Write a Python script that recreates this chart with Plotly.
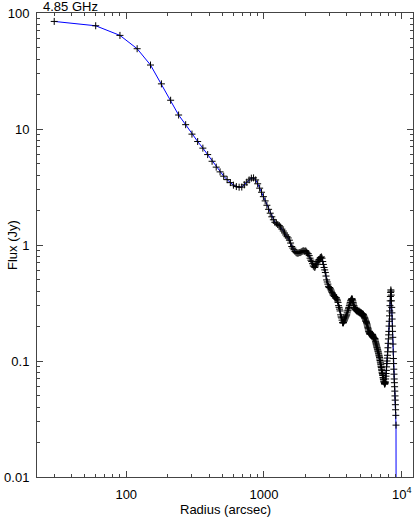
import plotly.graph_objects as go

# radial profile, 30 arcsec steps
radius = [
    30, 60, 90, 120, 150, 180, 210, 240, 270, 300,
    330, 360, 390, 420, 450, 480, 510, 540, 570, 600,
    630, 660, 690, 720, 750, 780, 810, 840, 870, 900,
    930, 960, 990, 1020, 1050, 1080, 1110, 1140, 1170, 1200,
    1230, 1260, 1290, 1320, 1350, 1380, 1410, 1440, 1470, 1500,
    1530, 1560, 1590, 1620, 1650, 1680, 1710, 1740, 1770, 1800,
    1830, 1860, 1890, 1920, 1950, 1980, 2010, 2040, 2070, 2100,
    2130, 2160, 2190, 2220, 2250, 2280, 2310, 2340, 2370, 2400,
    2430, 2460, 2490, 2520, 2550, 2580, 2610, 2640, 2670, 2700,
    2730, 2760, 2790, 2820, 2850, 2880, 2910, 2940, 2970, 3000,
    3030, 3060, 3090, 3120, 3150, 3180, 3210, 3240, 3270, 3300,
    3330, 3360, 3390, 3420, 3450, 3480, 3510, 3540, 3570, 3600,
    3630, 3660, 3690, 3720, 3750, 3780, 3810, 3840, 3870, 3900,
    3930, 3960, 3990, 4020, 4050, 4080, 4110, 4140, 4170, 4200,
    4230, 4260, 4290, 4320, 4350, 4380, 4410, 4440, 4470, 4500,
    4530, 4560, 4590, 4620, 4650, 4680, 4710, 4740, 4770, 4800,
    4830, 4860, 4890, 4920, 4950, 4980, 5010, 5040, 5070, 5100,
    5130, 5160, 5190, 5220, 5250, 5280, 5310, 5340, 5370, 5400,
    5430, 5460, 5490, 5520, 5550, 5580, 5610, 5640, 5670, 5700,
    5730, 5760, 5790, 5820, 5850, 5880, 5910, 5940, 5970, 6000,
    6030, 6060, 6090, 6120, 6150, 6180, 6210, 6240, 6270, 6300,
    6330, 6360, 6390, 6420, 6450, 6480, 6510, 6540, 6570, 6600,
    6630, 6660, 6690, 6720, 6750, 6780, 6810, 6840, 6870, 6900,
    6930, 6960, 6990, 7020, 7050, 7080, 7110, 7140, 7170, 7200,
    7230, 7260, 7290, 7320, 7350, 7380, 7410, 7440, 7470, 7500,
    7530, 7560, 7590, 7620, 7650, 7680, 7710, 7740, 7770, 7800,
    7830, 7860, 7890, 7920, 7950, 7980, 8010, 8040, 8070, 8100,
    8130, 8160, 8190, 8220, 8250, 8280, 8310, 8340, 8370, 8400,
    8430, 8460, 8490, 8520, 8550, 8580, 8610, 8640, 8670, 8700,
    8730, 8760, 8790, 8820, 8850, 8880, 8910, 8940, 8970, 9000,
    9030, 9060, 9090, 9120,
]

flux = [
    84.6, 77.6, 64.1, 49.2, 35.6, 24.5, 17.7, 13.2, 10.9, 9.03,
    7.80, 6.84, 6.02, 5.27, 4.69, 4.27, 3.92, 3.66, 3.45, 3.28,
    3.19, 3.15, 3.16, 3.30, 3.48, 3.64, 3.77, 3.79, 3.64, 3.37,
    3.09, 2.85, 2.61, 2.40, 2.20, 2.03, 1.88, 1.75, 1.65, 1.57,
    1.54, 1.50, 1.47, 1.43, 1.37, 1.32, 1.27, 1.22, 1.18, 1.15,
    1.10, 1.04, 0.97, 0.94, 0.91, 0.88, 0.86, 0.85, 0.85, 0.86,
    0.86, 0.87, 0.88, 0.89, 0.89, 0.88, 0.89, 0.87, 0.85, 0.84,
    0.81, 0.77, 0.74, 0.72, 0.69, 0.66, 0.65, 0.64, 0.66, 0.68,
    0.70, 0.72, 0.74, 0.75, 0.77, 0.78, 0.79, 0.77, 0.72, 0.68,
    0.64, 0.61, 0.58, 0.54, 0.50, 0.48, 0.46, 0.44, 0.43, 0.43,
    0.42, 0.41, 0.40, 0.39, 0.38, 0.37, 0.37, 0.36, 0.36, 0.35,
    0.35, 0.35, 0.34, 0.33, 0.32, 0.30, 0.29, 0.28, 0.27, 0.25,
    0.24, 0.235, 0.225, 0.215, 0.212, 0.215, 0.22, 0.225, 0.23, 0.235,
    0.24, 0.245, 0.25, 0.26, 0.27, 0.275, 0.285, 0.29, 0.30, 0.31,
    0.32, 0.33, 0.335, 0.34, 0.345, 0.34, 0.33, 0.32, 0.31, 0.30,
    0.29, 0.285, 0.28, 0.28, 0.275, 0.275, 0.27, 0.275, 0.27, 0.27,
    0.265, 0.265, 0.27, 0.265, 0.26, 0.265, 0.26, 0.26, 0.255, 0.26,
    0.255, 0.255, 0.25, 0.255, 0.25, 0.25, 0.245, 0.24, 0.235, 0.235,
    0.23, 0.225, 0.22, 0.22, 0.215, 0.21, 0.205, 0.20, 0.195, 0.19,
    0.185, 0.18, 0.178, 0.175, 0.172, 0.17, 0.172, 0.175, 0.172, 0.17,
    0.168, 0.165, 0.168, 0.17, 0.168, 0.165, 0.162, 0.16, 0.158, 0.157,
    0.157, 0.155, 0.156, 0.152, 0.148, 0.145, 0.141, 0.138, 0.135, 0.132,
    0.13, 0.127, 0.125, 0.122, 0.12, 0.117, 0.115, 0.112, 0.11, 0.107,
    0.104, 0.101, 0.098, 0.096, 0.093, 0.09, 0.088, 0.085, 0.083, 0.08,
    0.078, 0.076, 0.075, 0.072, 0.07, 0.069, 0.067, 0.066, 0.065, 0.064,
    0.063, 0.064, 0.065, 0.066, 0.07, 0.074, 0.078, 0.083, 0.089, 0.095,
    0.1, 0.106, 0.112, 0.12, 0.13, 0.142, 0.155, 0.168, 0.18, 0.2,
    0.22, 0.245, 0.27, 0.3, 0.33, 0.36, 0.39, 0.41, 0.40, 0.37,
    0.33, 0.29, 0.26, 0.23, 0.2, 0.18, 0.16, 0.14, 0.12, 0.105,
    0.095, 0.085, 0.077, 0.07, 0.065, 0.06, 0.055, 0.05, 0.046, 0.042,
    0.038, 0.034, 0.028, 0.001,
]

x_ticks = [100, 1000, 10000]
x_ticktext = ['100', '1000', '10<sup>4</sup>']
y_ticks = [0.01, 0.1, 1, 10, 100]
y_ticktext = ['0.01', '0.1', '1', '10', '100']
x_minor = [m * d for d in (10, 100, 1000) for m in range(2, 10)]
y_minor = [m * d for d in (0.01, 0.1, 1, 10) for m in range(2, 10)]

font = 'Liberation Sans, Arial, Helvetica, sans-serif'
axcol = '#444444'

fig = go.Figure()
fig.add_scatter(x=radius, y=flux, mode='lines+markers',
                line=dict(color='#0000ff', width=1),
                marker=dict(symbol='cross-thin', size=5, color='black',
                            line=dict(color='black', width=1)),
                showlegend=False, hoverinfo='x+y')

axis_common = dict(
    type='log', showgrid=False, zeroline=False, automargin=False,
    showline=True, linecolor=axcol, linewidth=1, mirror='allticks',
    ticks='inside', ticklen=6, tickcolor=axcol, tickwidth=1,
    tickfont=dict(family=font, size=13, color='black'),
)

fig.update_xaxes(axis_common, range=[1.352, 4.082], ticklabelstandoff=5,
                 tickmode='array', tickvals=x_ticks, ticktext=x_ticktext,
                 minor=dict(ticks='inside', ticklen=3, tickcolor=axcol,
                            tickmode='array', tickvals=x_minor))
fig.update_yaxes(axis_common, range=[-2, 2], ticklabelstandoff=4,
                 tickmode='array', tickvals=y_ticks, ticktext=y_ticktext,
                 minor=dict(ticks='inside', ticklen=3, tickcolor=axcol,
                            tickmode='array', tickvals=y_minor))

fig.add_annotation(text='4.85 GHz', xref='paper', yref='paper', x=0.012, y=1,
                   xanchor='left', yanchor='bottom', yshift=-2, borderpad=0,
                   showarrow=False, font=dict(family=font, size=13, color='black'))
fig.add_annotation(text='Radius (arcsec)', xref='paper', yref='paper', x=0.5, y=0,
                   xanchor='center', yanchor='top', yshift=-23, showarrow=False,
                   font=dict(family=font, size=13, color='black'))
fig.add_annotation(text='Flux (Jy)', xref='paper', yref='paper', x=0, y=0.5,
                   xanchor='center', yanchor='middle', xshift=-25, textangle=-90,
                   showarrow=False, font=dict(family=font, size=13, color='black'))

fig.update_layout(width=415, height=520,
                  margin=dict(l=37, r=2, t=13, b=43, autoexpand=False),
                  plot_bgcolor='white', paper_bgcolor='white',
                  font=dict(family=font, size=12, color='black'))

# page has a default body margin; drop it so the figure sits at 0,0
fig.write_html('out.html', config=dict(displayModeBar=False),
               post_script="document.body.style.margin='0';")
